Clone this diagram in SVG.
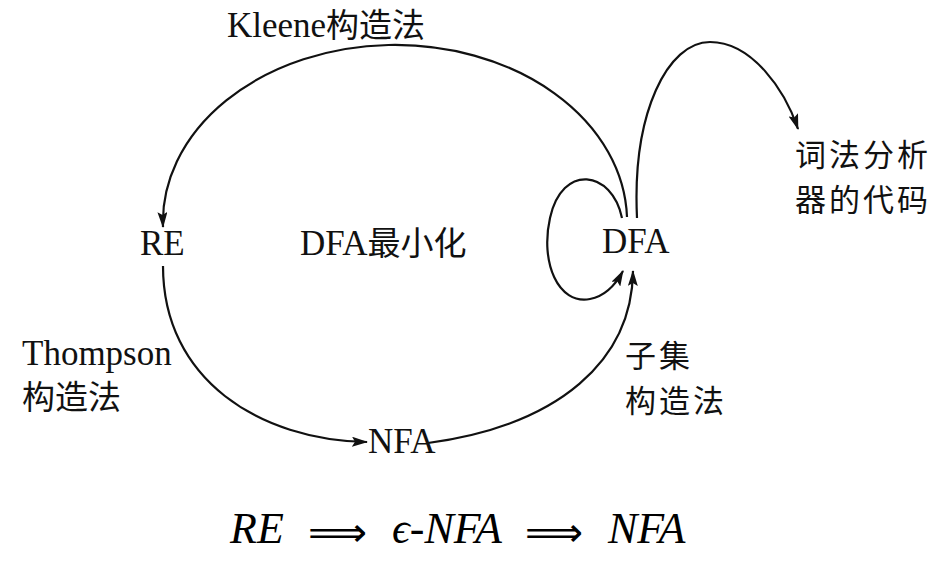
<svg xmlns="http://www.w3.org/2000/svg" width="950" height="575" viewBox="0 0 950 575">
<defs>
<style>
.lbl{font-family:"Liberation Serif","Noto Sans CJK SC",serif;font-size:35px;fill:#111}
.cjk{font-family:"Noto Sans CJK SC",sans-serif;font-size:33px;fill:#111}
.cjk2{font-family:"Noto Sans CJK SC",sans-serif;font-size:31px;letter-spacing:3px;fill:#111}
.edge{fill:none;stroke:#111;stroke-width:2.2}
.math{font-family:"Liberation Serif","DejaVu Serif",serif;font-style:italic;font-size:44px;fill:#000}
.arr{font-family:"DejaVu Sans",sans-serif;font-size:40px;fill:#000}
</style>
<marker id="ah" viewBox="0 0 16 10" refX="15" refY="5" markerWidth="16" markerHeight="10" markerUnits="userSpaceOnUse" orient="auto">
<path d="M0,0 L16,5 L0,10 L3,5 Z" fill="#111"/>
</marker>
</defs>
<rect width="950" height="575" fill="#fff"/>
<g id="connectors">
<path id="e-kleene" class="edge" d="M 627 217 A 232 177 0 0 0 163 227" marker-end="url(#ah)"/>
<path id="e-thompson" class="edge" d="M 163 266 C 163 380 260 440 367 442" marker-end="url(#ah)"/>
<path id="e-subset" class="edge" d="M 428 443 C 560 425 632 360 633 271" marker-end="url(#ah)"/>
<path id="e-min" class="edge" d="M 622 218 C 612 170 562 163 550 218 C 540 262 558 305 590 299 C 606 296 616 284 623 271" marker-end="url(#ah)"/>
<path id="e-code" class="edge" d="M 637 218 C 632 112 668 42 710 42 C 752 42 785 90 798 129" marker-end="url(#ah)"/>
</g>
<g id="n-re"><text class="lbl" x="140" y="255">RE</text></g>
<g id="n-nfa"><text class="lbl" x="368" y="453">NFA</text></g>
<g id="n-dfa"><text class="lbl" x="602" y="253">DFA</text></g>
<g id="n-code"><text class="cjk2" x="795" y="166">词法分析<tspan x="795" dy="45">器的代码</tspan></text></g>
<g id="labels">
<text class="lbl" x="227" y="37">Kleene<tspan class="cjk">构造法</tspan></text>
<text class="lbl" x="300" y="255">DFA<tspan class="cjk">最小化</tspan></text>
<text class="lbl" x="22" y="365">Thompson<tspan class="cjk" x="22" dy="44">构造法</tspan></text>
<text class="cjk2" x="625" y="367">子集<tspan x="625" dy="45">构造法</tspan></text>
</g>
<g id="formula">
<text class="math" x="230" y="543">RE</text>
<text class="arr" x="308" y="546" textLength="59" lengthAdjust="spacingAndGlyphs">⟹</text>
<text class="math" x="392" y="543">ϵ<tspan font-style="normal">-</tspan>NFA</text>
<text class="arr" x="525" y="546" textLength="58" lengthAdjust="spacingAndGlyphs">⟹</text>
<text class="math" x="608" y="543">NFA</text>
</g>
</svg>
